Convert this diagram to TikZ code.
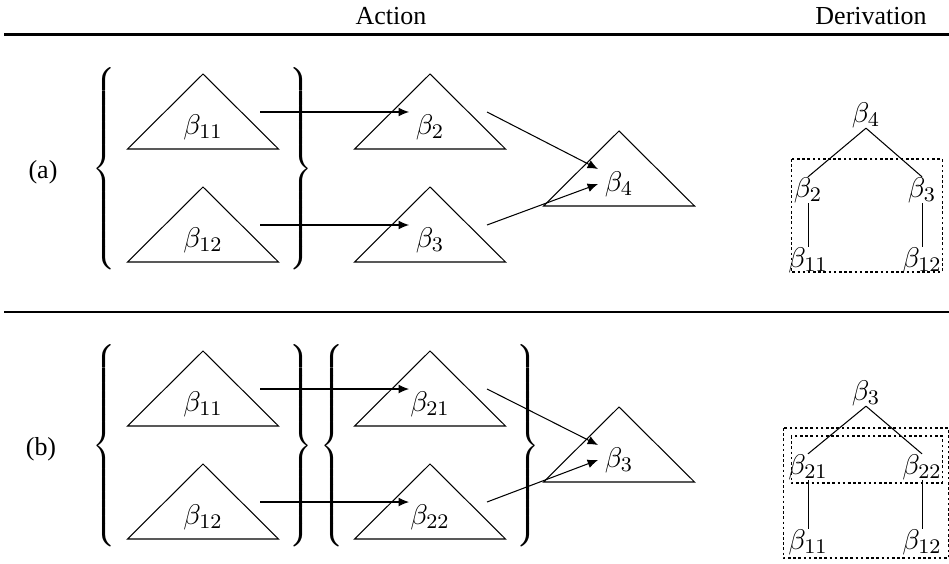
\documentclass[tikz,border=0pt]{standalone}
\usepackage{fontspec}
\setmainfont{Liberation Serif}
\usetikzlibrary{arrows.meta}

\begin{document}
\begin{tikzpicture}[->,>={Latex[length=4pt,width=3.4pt]},x=0.385pt,y=-0.385pt,
    lab/.style={inner sep=0pt,font=\fontsize{10.95}{13}\selectfont},
    brace/.style={inner sep=0pt},
    hrule/.style={-,line width=0.9pt},
    dbox/.style={-,draw,dash pattern=on 1pt off 1pt}]
\useasboundingbox (0,0) rectangle (949,563);

            \node (act) at (391,16) {Action};
            \node (der) at (871,16) {Derivation};
            \draw[hrule] (4,34.5) -- (949,34.5);
            \draw[hrule] (4,312) -- (949,312);

            \node (lba) at (43,172) {(a)};
            \node (lbb) at (41,449) {(b)};

            % trees of the action rows
            \foreach \n/\x/\y/\t in {a11/203/74/11, a12/203/187/12, a2/430/74/2, a3/430/187/3, a4/619/131/4,
                                     b11/203/351/11, b12/203/464/12, b21/430/351/21, b22/430/464/22, b3/619/407/3}
            {
                \draw[-] (\x,\y) -- (\x-75.5,\y+75) -- (\x+75.5,\y+75) -- cycle;
                \node[lab] (\n) at (\x,\y+53) {$\beta_{\t}$};
                \coordinate (\n-out) at (\x+57,\y+38);
                \coordinate (\n-in) at (\x-21,\y+38);
                \coordinate (\n-in2) at (\x-21,\y+53);
            }

            \node[brace] (a-l) at (106,169) {$\left\{\vcenter{\hbox{\rule{0pt}{80pt}}}\right.$};
            \node[brace] (a-r) at (299,169) {$\left.\vcenter{\hbox{\rule{0pt}{80pt}}}\right\}$};
            \node[brace] (b-l) at (106,446) {$\left\{\vcenter{\hbox{\rule{0pt}{80pt}}}\right.$};
            \node[brace] (b-r) at (299,446) {$\left.\vcenter{\hbox{\rule{0pt}{80pt}}}\right\}$};
            \node[brace] (c-l) at (334,446) {$\left\{\vcenter{\hbox{\rule{0pt}{80pt}}}\right.$};
            \node[brace] (c-r) at (526,446) {$\left.\vcenter{\hbox{\rule{0pt}{80pt}}}\right\}$};

            \path
                (a11-out) edge (a2-in)
                (a12-out) edge (a3-in)
                (a2-out) edge (a4-in)
                (a3-out) edge (a4-in2)
                (b11-out) edge (b21-in)
                (b12-out) edge (b22-in)
                (b21-out) edge (b3-in)
                (b22-out) edge (b3-in2)
            ;

            % derivations
            \node[lab] (da4) at (866,115) {$\beta_4$};
            \node[lab] (da2) at (808,190) {$\beta_2$};
            \node[lab] (da3) at (922,190) {$\beta_3$};
            \node[lab] (da11) at (808,260) {$\beta_{11}$};
            \node[lab] (da12) at (922,260) {$\beta_{12}$};
            \draw[dbox] (791,159) rectangle (942,272);

            \node[lab] (db3) at (866,393) {$\beta_3$};
            \node[lab] (db21) at (808,467) {$\beta_{21}$};
            \node[lab] (db22) at (922,467) {$\beta_{22}$};
            \node[lab] (db11) at (808,542) {$\beta_{11}$};
            \node[lab] (db12) at (922,542) {$\beta_{12}$};
            \draw[dbox] (783,428) rectangle (948.5,558);
            \draw[dbox] (791,436) rectangle (942,483);

            \path[-]
                (da4.south) edge (da2.north)
                (da4.south) edge (da3.north)
                (da2.south) edge (da11.north)
                (da3.south) edge (da12.north)
                (db3.south) edge (db21.north)
                (db3.south) edge (db22.north)
                (db21.south) edge (db11.north)
                (db22.south) edge (db12.north)
            ;
        \end{tikzpicture}
\end{document}
